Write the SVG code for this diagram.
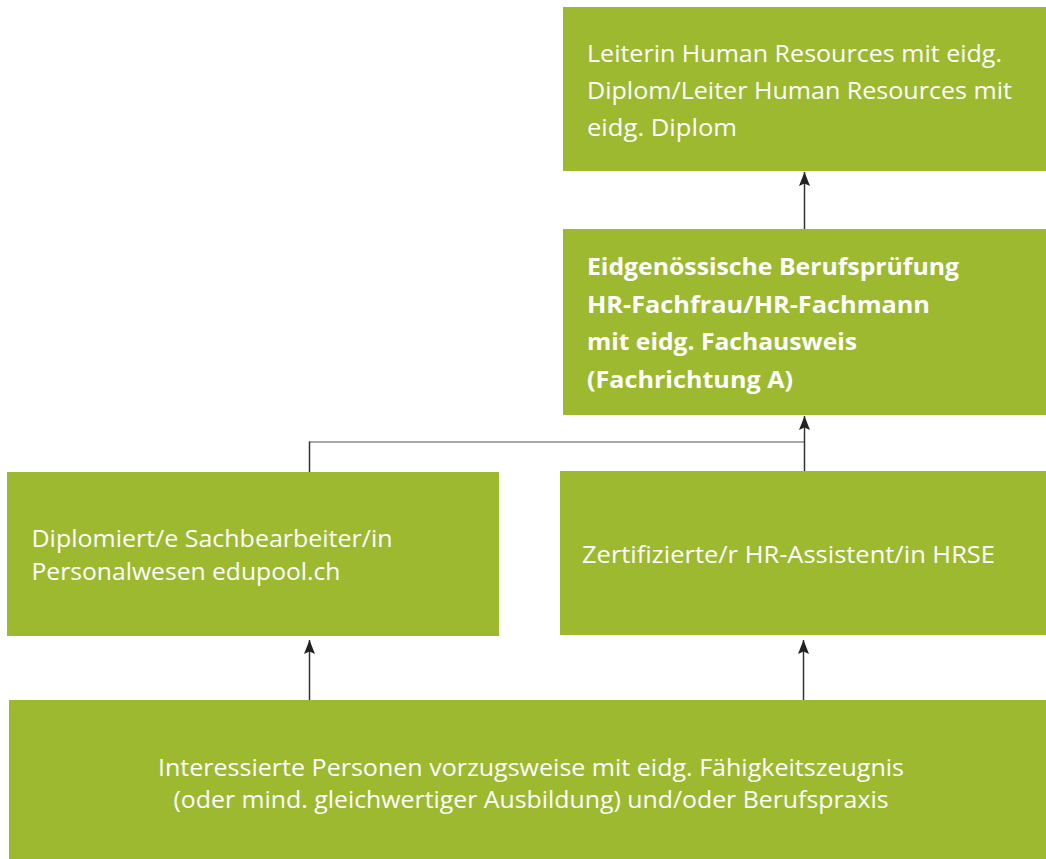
<svg xmlns="http://www.w3.org/2000/svg" width="1046" height="859" viewBox="0 0 1046 859">
<style>
.box{fill:#9cb92f}
.t{fill:#fff;font-family:"Open Sans","Noto Sans",sans-serif;font-size:24px}
.b{font-weight:bold;font-size:24px}
.c{text-anchor:middle}
.ln{fill:none;stroke:#333;stroke-width:1.5}
.hl{fill:none;stroke:#8a8a8a;stroke-width:1.5}
</style>
<defs>
<marker id="ah" markerUnits="userSpaceOnUse" markerWidth="15" markerHeight="12" refX="14" refY="5.5" orient="auto">
<path d="M0,0 L14,5.5 L0,11 L2.5,5.5 Z" fill="#222"/>
</marker>
</defs>
<rect width="1046" height="859" fill="#fff"/>
<g id="connectors">
<path class="hl" d="M309.5 442 H804.5"/>
<path class="ln" d="M309.5 472 V441.5"/>
<path class="ln" d="M804.5 229 V172" marker-end="url(#ah)"/>
<path class="ln" d="M804.5 471 V416" marker-end="url(#ah)"/>
<path class="ln" d="M309.5 700 V640" marker-end="url(#ah)"/>
<path class="ln" d="M803.5 700 V640" marker-end="url(#ah)"/>
</g>
<g id="n-leiter">
<rect class="box" x="563" y="7" width="483" height="164"/>
<text class="t" x="587" y="62" textLength="415" lengthAdjust="spacingAndGlyphs">Leiterin Human Resources mit eidg.</text>
<text class="t" x="587" y="99" textLength="425" lengthAdjust="spacingAndGlyphs">Diplom/Leiter Human Resources mit</text>
<text class="t" x="587" y="136" textLength="150" lengthAdjust="spacingAndGlyphs">eidg. Diplom</text>
</g>
<g id="n-berufspruefung">
<rect class="box" x="563" y="229" width="483" height="186"/>
<text class="t b" x="587" y="275" textLength="372" lengthAdjust="spacingAndGlyphs">Eidgenössische Berufsprüfung</text>
<text class="t b" x="587" y="313" textLength="343" lengthAdjust="spacingAndGlyphs">HR-Fachfrau/HR-Fachmann</text>
<text class="t b" x="587" y="350" textLength="270" lengthAdjust="spacingAndGlyphs">mit eidg. Fachausweis</text>
<text class="t b" x="587" y="388" textLength="206" lengthAdjust="spacingAndGlyphs">(Fachrichtung A)</text>
</g>
<g id="n-sachbearbeiter">
<rect class="box" x="7" y="472" width="492" height="164"/>
<text class="t" x="31.5" y="547" textLength="361" lengthAdjust="spacingAndGlyphs">Diplomiert/e Sachbearbeiter/in</text>
<text class="t" x="31.5" y="580" textLength="309" lengthAdjust="spacingAndGlyphs">Personalwesen edupool.ch</text>
</g>
<g id="n-assistent">
<rect class="box" x="560" y="471" width="486" height="164"/>
<text class="t" x="582" y="563" textLength="413" lengthAdjust="spacingAndGlyphs">Zertifizierte/r HR-Assistent/in HRSE</text>
</g>
<g id="n-interessierte">
<rect class="box" x="9" y="700" width="1037" height="159"/>
<text class="t" x="158" y="776" textLength="746" lengthAdjust="spacingAndGlyphs">Interessierte Personen vorzugsweise mit eidg. Fähigkeitszeugnis</text>
<text class="t" x="173.5" y="808" textLength="715" lengthAdjust="spacingAndGlyphs">(oder mind. gleichwertiger Ausbildung) und/oder Berufspraxis</text>
</g>
</svg>
